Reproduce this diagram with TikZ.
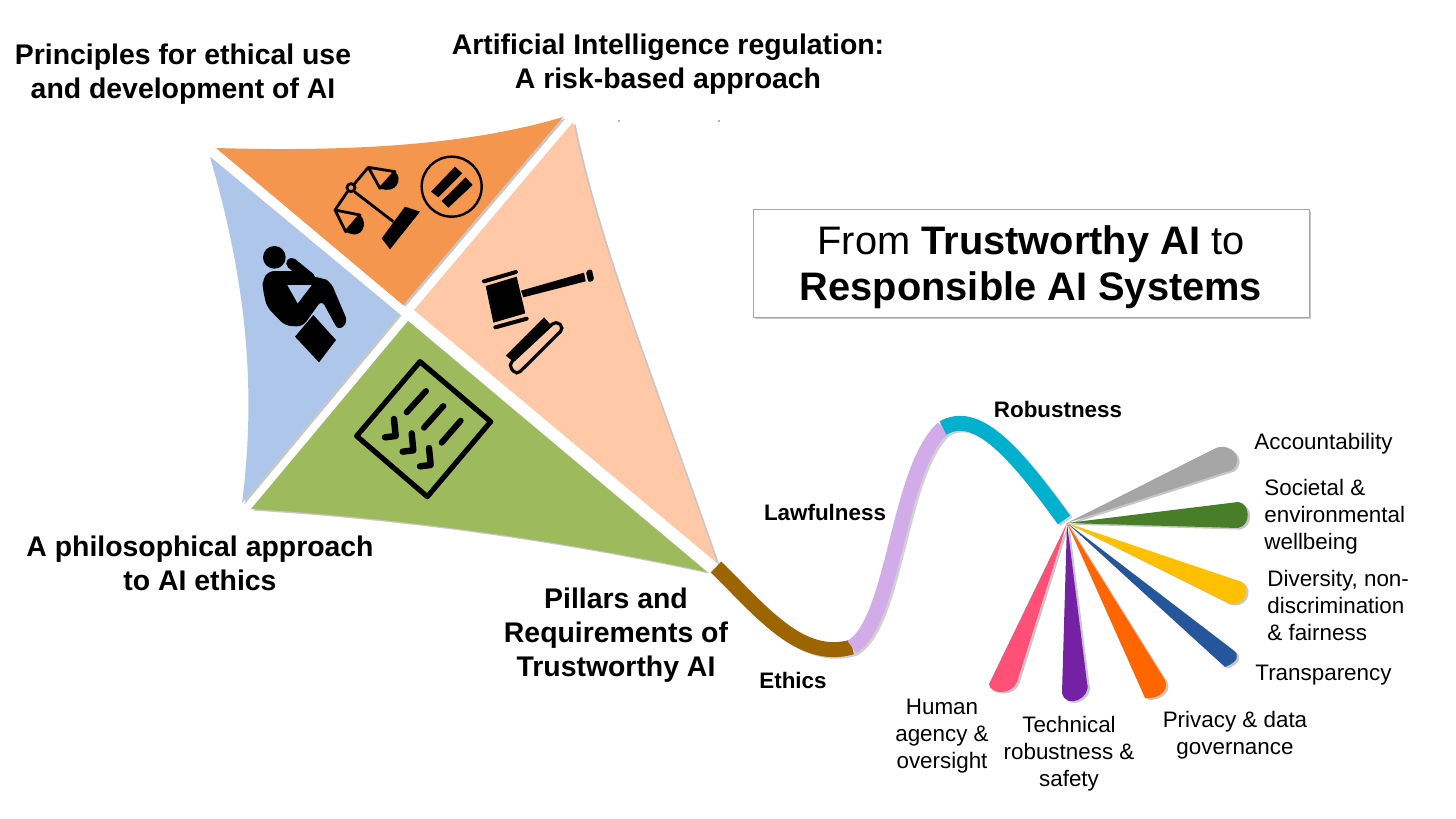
\documentclass[tikz,border=0pt]{standalone}
\usepackage{fontspec}
\setmainfont{Liberation Sans}
\usetikzlibrary{shadows}

\definecolor{kiteorange}{HTML}{F4964D}
\definecolor{kitepeach}{HTML}{FFC8A6}
\definecolor{kitegreen}{HTML}{9DBB5C}
\definecolor{kiteblue}{HTML}{AEC6E9}
\definecolor{tailbrown}{HTML}{9C6500}
\definecolor{taillilac}{HTML}{D2ACE8}
\definecolor{tailteal}{HTML}{00B0CC}
\definecolor{bladegray}{HTML}{A6A6A6}
\definecolor{bladegreen}{HTML}{477E27}
\definecolor{bladeyellow}{HTML}{FFC000}
\definecolor{bladeblue}{HTML}{25559B}
\definecolor{bladeorange}{HTML}{FF6600}
\definecolor{bladepurple}{HTML}{7421A3}
\definecolor{bladepink}{HTML}{FF5078}

\begin{document}
\begin{tikzpicture}[x=0.5pt, y=-0.5pt,
    % Define the styles for the kite, the tail and the labels
    softshadow/.style={drop shadow={shadow xshift=1.2pt, shadow yshift=-0.8pt, fill=black, opacity=0.22}},
    kitepiece/.style={fill=#1, softshadow},
    blade/.style={fill=#1, softshadow},
    tailpart/.style={draw=#1, line width=7.5pt},
    tailshade/.style={draw=black, opacity=0.18, line width=7.5pt, xshift=1.2pt, yshift=-0.8pt},
    headlabel/.style={font=\bfseries\fontsize{14.2}{17}\selectfont, align=center, inner sep=0pt},
    pillarlabel/.style={font=\bfseries\fontsize{11.2}{13}\selectfont, inner sep=0pt},
    reqlabel/.style={font=\fontsize{11.2}{13.5}\selectfont, align=center, inner sep=0pt},
    reqleft/.style={reqlabel, align=left, anchor=west}
]

\useasboundingbox (0,0) rectangle (1456,819);
\fill[white] (0,0) rectangle (1456,819);

% Define the points of the kite
\coordinate (OrangeL) at (216,148);
\coordinate (OrangeT) at (563,117);
\coordinate (OrangeC) at (403,305);
\coordinate (PeachT) at (573,122);
\coordinate (PeachC) at (414,310);
\coordinate (PeachB) at (717,563);
\coordinate (GreenC) at (408,321);
\coordinate (GreenL) at (251,509);
\coordinate (GreenR) at (707,572);
\coordinate (BlueT) at (210,157);
\coordinate (BlueC) at (399,314);
\coordinate (BlueB) at (242,503);

% Draw the four pieces of the kite
\draw[kitepiece=kiteorange, draw=none] (OrangeL) .. controls (350,152) and (470,145) .. (OrangeT) -- (OrangeC) -- cycle;
\draw[kitepiece=kitepeach, draw=none] (PeachT) .. controls (600,250) and (650,370) .. (PeachB) -- (PeachC) -- cycle;
\draw[kitepiece=kitegreen, draw=none] (GreenC) -- (GreenR) .. controls (560,540) and (400,518) .. (GreenL) -- cycle;
\draw[kitepiece=kiteblue, draw=none] (BlueT) .. controls (243,270) and (258,380) .. (BlueB) -- (BlueC) -- cycle;

% Draw the thinker
\begin{scope}[shift={(250,235)}, x=0.16667pt, y=-0.16667pt]
\fill[black] (73,67) circle (34);
\fill[black, rounded corners=3pt] (38,135) -- (55,108) -- (140,108) -- (195,128) -- (215,128) -- (242,140)
    -- (294,262) -- (265,287) -- (215,195) -- (158,275) -- (105,272) -- (50,215) -- (38,160) -- cycle;
\draw[black, line width=5.5pt, line cap=round] (125,85) -- (180,130);
\fill[kiteblue] (112,150) -- (185,150) -- (143,205) -- cycle;
\fill[black] (135,305) -- (190,240) -- (258,315) -- (207,382) -- cycle;
\end{scope}

% Draw the scales
\begin{scope}[shift={(325,150)}, x=0.16667pt, y=-0.16667pt]
\draw[black, line width=1.4pt] (88,125) -- (205,215);
\draw[black, line width=1.4pt, line join=round] (68,124) -- (30,180) -- (105,195) -- (62,245) -- (30,180);
\draw[black, line width=1.4pt, line join=round] (87,103) -- (130,52) -- (210,65) -- (165,115) -- (130,52);
\draw[black, line width=1.4pt] (78,113) circle (12);
\fill[black] (210,65) .. controls (235,85) and (215,135) .. (165,115) -- cycle;
\fill[black] (105,195) .. controls (130,215) and (115,275) .. (62,245) -- cycle;
\fill[black] (240,170) -- (285,185) -- (195,298) -- (170,265) -- cycle;
\draw[black, line width=1.2pt] (380,110) circle (90);
\fill[black] (318,125) -- (390,50) -- (412,70) -- (340,142) -- cycle;
\fill[black] (350,153) -- (422,82) -- (443,105) -- (370,173) -- cycle;
\end{scope}

% Draw the list
\begin{scope}[shift={(345,350)}, x=0.16667pt, y=-0.16667pt]
\draw[black, line width=2.6pt, line join=round] (225,35) -- (437,215) -- (247,440) -- (35,258) -- cycle;
\foreach \sx/\sy/\ex/\ey in {185/187/243/123, 237/233/295/168, 290/278/347/212}
    \draw[black, line width=3pt, line cap=round] (\sx,\sy) -- (\ex,\ey);
\foreach \dx/\dy in {0/0, 53/43, 105/87}
    \draw[black, line width=3.2pt, line cap=round, line join=round, shift={(\dx,\dy)}]
        (147,207) -- (152,258) -- (120,262);
\end{scope}

% Draw the gavel
\begin{scope}[shift={(420,100)}, x=0.16667pt, y=-0.16667pt]
\fill[black] (197,558) -- (290,530) -- (316,640) -- (220,668) -- cycle;
\draw[black, line width=2pt, line cap=round] (192,544) -- (288,516);
\draw[black, line width=2pt, line cap=round] (226,682) -- (320,656);
\fill[black] (303,572) -- (492,518) -- (497,544) -- (310,592) -- cycle;
\fill[black, rounded corners=1pt] (497,513) -- (515,507) -- (523,541) -- (505,547) -- cycle;
\fill[black] (257,767) -- (372,652) -- (390,672) -- (277,782) -- cycle;
\draw[black, fill=kitepeach, line width=1.6pt, rounded corners=2.5pt]
    (265,795) -- (408,662) -- (432,684) -- (290,825) -- cycle;
\end{scope}

% Draw the tail
\draw[tailshade] (716,567) .. controls (760,610) and (800,662) .. (852,647)
    .. controls (895,620) and (897,470) .. (943,428)
    .. controls (975,410) and (1010,445) .. (1064,520);
\draw[tailpart=tailbrown] (716,567) .. controls (760,610) and (800,662) .. (852,647);
\draw[tailpart=taillilac] (852,647) .. controls (895,620) and (897,470) .. (943,428);
\draw[tailpart=tailteal] (943,428) .. controls (975,410) and (1010,445) .. (1064,520);

% Draw the fan of blades
\coordinate (Hub) at (1067,523);
\draw[blade=bladegray, draw=none] (Hub) -- (1216,448) .. controls (1232,442) and (1245,460) .. (1232,470) -- cycle;
\draw[blade=bladegreen, draw=none] (Hub) -- (1238,502) .. controls (1250,503) and (1252,525) .. (1238,528) -- cycle;
\draw[blade=bladeyellow, draw=none] (Hub) -- (1242,582) .. controls (1252,590) and (1243,608) .. (1228,603) -- cycle;
\draw[blade=bladeblue, draw=none] (Hub) -- (1233,650) .. controls (1240,655) and (1238,662) .. (1225,667) -- cycle;
\draw[blade=bladeorange, draw=none] (Hub) -- (1163,677) .. controls (1172,688) and (1160,700) .. (1145,698) -- cycle;
\draw[blade=bladepurple, draw=none] (Hub) -- (1087,683) .. controls (1092,698) and (1066,710) .. (1062,693) -- cycle;
\draw[blade=bladepink, draw=none] (Hub) -- (1017,682) .. controls (1012,695) and (990,695) .. (989,684) -- cycle;

% Add the box
\node[draw=black!35, fill=white, softshadow, minimum width=278pt, minimum height=54pt, inner sep=0pt] (Title) at (1031,263) {};
\node[font=\fontsize{19.9}{23}\selectfont, align=center, inner sep=0pt] (TitleText) at (1031,267)
    {From \textbf{Trustworthy AI} to\\\textbf{Responsible AI Systems}};

% Add the kite labels
\node[headlabel] (Principles) at (183,74) {Principles for ethical use\\and development of AI};
\node[headlabel] (Regulation) at (668,64) {Artificial Intelligence regulation:\\A risk-based approach};
\node[headlabel] (Philosophy) at (200,563) {A philosophical approach\\to AI ethics};
\node[headlabel] (Pillars) at (616,635) {Pillars and\\Requirements of\\Trustworthy AI};

% Add the pillar labels
\node[pillarlabel] (Ethics) at (793,680) {Ethics};
\node[pillarlabel] (Lawfulness) at (825,512) {Lawfulness};
\node[pillarlabel] (Robustness) at (1058,409) {Robustness};

% Add the requirement labels
\node[reqleft] (Accountability) at (1254,444) {Accountability};
\node[reqleft] (Societal) at (1264,517) {Societal \&\\environmental\\wellbeing};
\node[reqleft] (Diversity) at (1267,605) {Diversity, non-\\discrimination\\\& fairness};
\node[reqleft] (Transparency) at (1255,675) {Transparency};
\node[reqlabel] (Privacy) at (1235,735) {Privacy \& data\\governance};
\node[reqlabel] (Technical) at (1069,754) {Technical\\robustness \&\\safety};
\node[reqlabel] (Human) at (942,736) {Human\\agency \&\\oversight};

% Add the two specks above the kite
\fill[black!60] (619,121) circle (0.8);
\fill[black!60] (719,121) circle (0.8);

\end{tikzpicture}
\end{document}
